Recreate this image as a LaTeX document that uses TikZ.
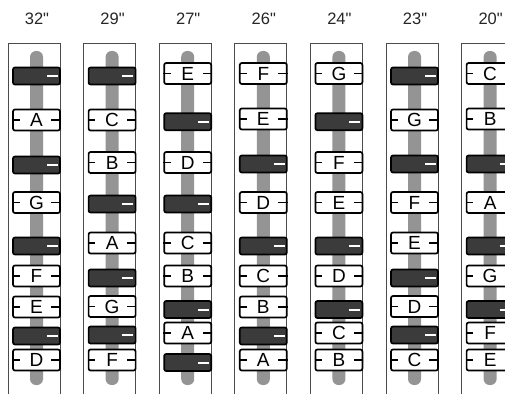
\documentclass[tikz,border=0pt]{standalone}
\usepackage{fontspec}
\setmainfont{Liberation Sans}
\newfontfamily\plainsans{Liberation Sans}
\newcommand\wkey[4]{%
  \node[wk] (#1) at (#2+28.5,#3) {#4};
  \draw[tick] (#1.west) -- ++(7.7,0);
  \draw[tick] (#1.east) -- ++(-9.5,0);}
\newcommand\dkey[3]{%
  \node[dk] (#1) at (#2+28.5,#3) {};
  \draw[wtick] ([xshift=-3pt]#1.east) -- ++(-11,0);}
\newcommand\panelcol[3]{%
  \node[head] (h#1) at (#2+29,19) {#3};
  \draw[panel] (#2,400) -- (#2,43) -- (#2+52,43) -- (#2+52,400);
  \fill[bar] (#2+22,51) rectangle (#2+35,385);}
\begin{document}
\begin{tikzpicture}[x=1pt,y=-1pt,
  panel/.style={draw=black!70,line width=0.9pt},
  bar/.style={fill=black!42,rounded corners=6pt},
  wk/.style={draw=black,fill=white,line width=1.7pt,rounded corners=2pt,
    minimum width=47pt,minimum height=21pt,inner sep=0pt,
    text height=13.6pt,text depth=0pt,font=\plainsans\fontsize{19}{19}\selectfont},
  dk/.style={draw=black,fill=black!77,line width=1.7pt,rounded corners=2pt,
    minimum width=47pt,minimum height=17pt,inner sep=0pt},
  tick/.style={draw=black,line width=1.3pt},
  wtick/.style={draw=white,line width=2pt},
  head/.style={font=\plainsans\fontsize{16.5}{16.5}\selectfont,text=black!85}]
\useasboundingbox[fill=white] (0,0) rectangle (505,393);
% column 1
\panelcol{1}{8}{32"}
\dkey{c1a}{8}{76}
\wkey{c1b}{8}{120}{A}
\dkey{c1c}{8}{165}
\wkey{c1d}{8}{202.5}{G}
\dkey{c1e}{8}{246}
\wkey{c1f}{8}{276}{F}
\wkey{c1g}{8}{307}{E}
\dkey{c1h}{8}{336}
\wkey{c1i}{8}{360}{D}
% column 2
\panelcol{2}{83.6}{29"}
\dkey{c2a}{83.6}{76}
\wkey{c2b}{83.6}{120}{C}
\wkey{c2c}{83.6}{162.5}{B}
\dkey{c2d}{83.6}{204}
\wkey{c2e}{83.6}{243}{A}
\dkey{c2f}{83.6}{278}
\wkey{c2g}{83.6}{306.5}{G}
\dkey{c2h}{83.6}{335}
\wkey{c2i}{83.6}{360}{F}
% column 3
\panelcol{3}{159.2}{27"}
\wkey{c3a}{159.2}{73.5}{E}
\dkey{c3b}{159.2}{121.7}
\wkey{c3c}{159.2}{162.5}{D}
\dkey{c3d}{159.2}{204}
\wkey{c3e}{159.2}{243}{C}
\wkey{c3f}{159.2}{276}{B}
\dkey{c3g}{159.2}{309.5}
\wkey{c3h}{159.2}{333}{A}
\dkey{c3i}{159.2}{362.5}
% column 4
\panelcol{4}{234.8}{26"}
\wkey{c4a}{234.8}{73.5}{F}
\wkey{c4b}{234.8}{119}{E}
\dkey{c4c}{234.8}{164}
\wkey{c4d}{234.8}{202.5}{D}
\dkey{c4e}{234.8}{246}
\wkey{c4f}{234.8}{276}{C}
\wkey{c4g}{234.8}{307}{B}
\dkey{c4h}{234.8}{336}
\wkey{c4i}{234.8}{360}{A}
% column 5
\panelcol{5}{310.4}{24"}
\wkey{c5a}{310.4}{73.5}{G}
\dkey{c5b}{310.4}{121.7}
\wkey{c5c}{310.4}{162.5}{F}
\wkey{c5d}{310.4}{202.5}{E}
\dkey{c5e}{310.4}{246}
\wkey{c5f}{310.4}{276}{D}
\dkey{c5g}{310.4}{309.5}
\wkey{c5h}{310.4}{333}{C}
\wkey{c5i}{310.4}{360}{B}
% column 6
\panelcol{6}{386}{23"}
\dkey{c6a}{386}{76}
\wkey{c6b}{386}{120}{G}
\dkey{c6c}{386}{164}
\wkey{c6d}{386}{202.5}{F}
\wkey{c6e}{386}{243}{E}
\dkey{c6f}{386}{278}
\wkey{c6g}{386}{306.5}{D}
\dkey{c6h}{386}{335}
\wkey{c6i}{386}{360}{C}
% column 7
\panelcol{7}{461.6}{20"}
\wkey{c7a}{461.6}{73.5}{C}
\wkey{c7b}{461.6}{119}{B}
\dkey{c7c}{461.6}{164}
\wkey{c7d}{461.6}{202.5}{A}
\dkey{c7e}{461.6}{246}
\wkey{c7f}{461.6}{276}{G}
\dkey{c7g}{461.6}{309.5}
\wkey{c7h}{461.6}{333}{F}
\wkey{c7i}{461.6}{360}{E}
\end{tikzpicture}
\end{document}
